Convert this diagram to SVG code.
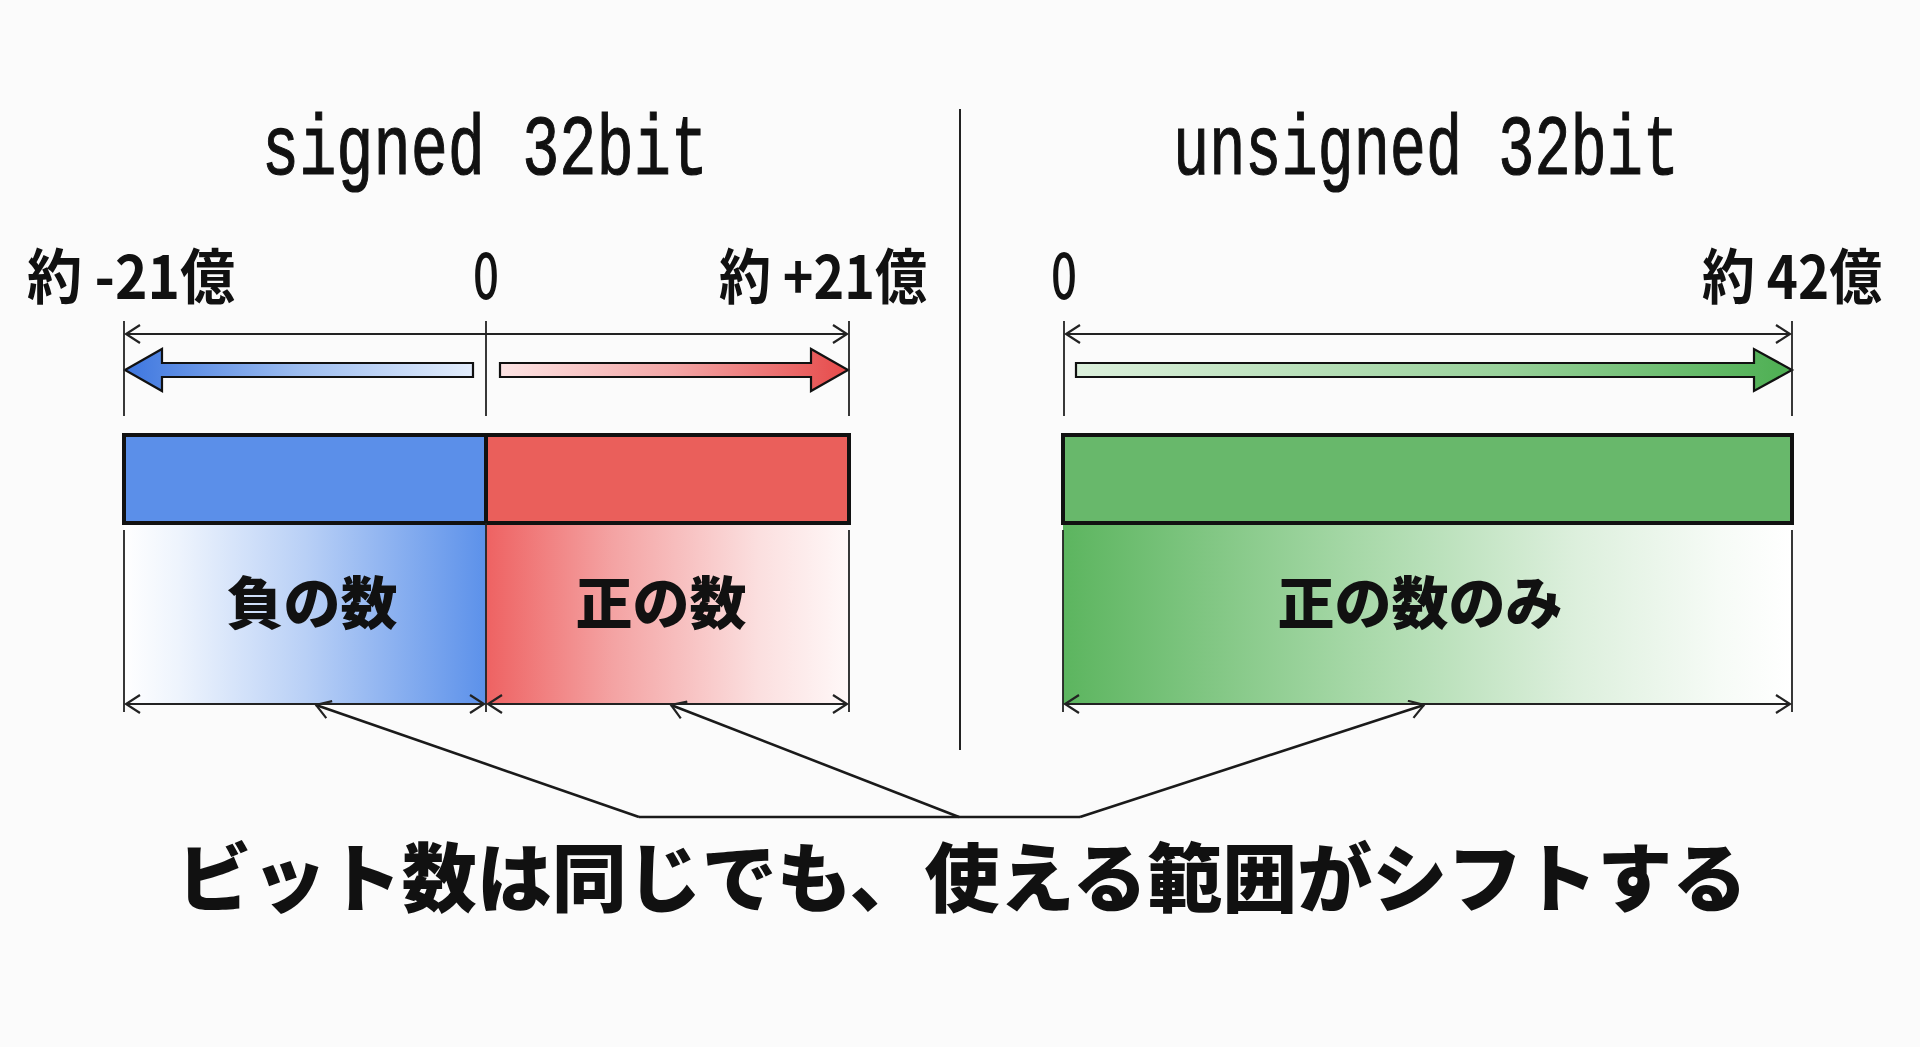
<svg xmlns="http://www.w3.org/2000/svg" width="1920" height="1047" viewBox="0 0 1920 1047">
<style>
.title{font-family:"Liberation Mono","DejaVu Sans Mono",monospace;font-size:85px;fill:#111;stroke:#111;stroke-width:1.2}
.lbl{font-family:"Noto Sans CJK JP","Noto Sans",sans-serif;font-size:60px;font-weight:700;fill:#111}
.zero{font-family:"Noto Sans CJK JP","Noto Sans",sans-serif;font-size:64px;font-weight:500;fill:#111}
.big{font-family:"Noto Sans CJK JP",sans-serif;font-weight:900;fill:#111}
.tick{stroke:#222;stroke-width:1.8;fill:none}
.dim{stroke:#222;stroke-width:2.2;fill:none;marker-start:url(#chev);marker-end:url(#chev)}
.call{stroke:#1a1a1a;stroke-width:2.6;fill:none}
.bar{stroke:#111;stroke-width:4}
.blk{stroke:#111;stroke-width:2.2}
</style>
<defs>
<marker id="chev" viewBox="-16 -10 18 20" markerWidth="18" markerHeight="20" refX="0" refY="0" orient="auto-start-reverse" markerUnits="userSpaceOnUse">
<path d="M-14,-9 L0,0 L-14,9" fill="none" stroke="#222" stroke-width="2.2"/>
</marker>
<linearGradient id="gBlueArr" x1="0" x2="1" y1="0" y2="0"><stop offset="0" stop-color="#3d76df"/><stop offset="0.5" stop-color="#9dbdf0"/><stop offset="1" stop-color="#e3edfc"/></linearGradient>
<linearGradient id="gRedArr" x1="0" x2="1" y1="0" y2="0"><stop offset="0" stop-color="#fde4e4"/><stop offset="0.5" stop-color="#f3a6a6"/><stop offset="1" stop-color="#e64a4a"/></linearGradient>
<linearGradient id="gGreenArr" x1="0" x2="1" y1="0" y2="0"><stop offset="0" stop-color="#dcf0dc"/><stop offset="0.6" stop-color="#98d19a"/><stop offset="1" stop-color="#4daf52"/></linearGradient>
<linearGradient id="gBlueReg" x1="0" x2="1" y1="0" y2="0"><stop offset="0" stop-color="#ffffff"/><stop offset="0.15" stop-color="#eef4fd"/><stop offset="0.5" stop-color="#b9d0f6"/><stop offset="1" stop-color="#5c91ea"/></linearGradient>
<linearGradient id="gRedReg" x1="0" x2="1" y1="0" y2="0"><stop offset="0" stop-color="#ee6262"/><stop offset="0.35" stop-color="#f4a3a3"/><stop offset="0.75" stop-color="#fbdfdf"/><stop offset="1" stop-color="#fff8f8"/></linearGradient>
<linearGradient id="gGreenReg" x1="0" x2="1" y1="0" y2="0"><stop offset="0" stop-color="#5cb55f"/><stop offset="0.4" stop-color="#a6d8a7"/><stop offset="0.7" stop-color="#dcefdc"/><stop offset="0.9" stop-color="#f6fbf6"/><stop offset="1" stop-color="#ffffff"/></linearGradient>
</defs>
<rect width="1920" height="1047" fill="#fbfbfb"/>

<g id="divider"><line x1="960" y1="109" x2="960" y2="750" stroke="#222" stroke-width="2"/></g>

<g id="signed-title"><text class="title" x="485" y="174" text-anchor="middle" textLength="446" lengthAdjust="spacingAndGlyphs">signed 32bit</text></g>
<g id="unsigned-title"><text class="title" x="1426" y="174" text-anchor="middle" textLength="506" lengthAdjust="spacingAndGlyphs">unsigned 32bit</text></g>

<g id="label-min-signed"><text class="lbl" x="27" y="299" textLength="208" lengthAdjust="spacingAndGlyphs">約 -21億</text></g>
<g id="label-zero-signed"><text class="zero" x="486" y="299" text-anchor="middle" textLength="26" lengthAdjust="spacingAndGlyphs">0</text></g>
<g id="label-max-signed"><text class="lbl" x="719" y="299" textLength="208" lengthAdjust="spacingAndGlyphs">約 +21億</text></g>
<g id="label-zero-unsigned"><text class="zero" x="1064" y="299" text-anchor="middle" textLength="26" lengthAdjust="spacingAndGlyphs">0</text></g>
<g id="label-max-unsigned"><text class="lbl" x="1702" y="299" textLength="180" lengthAdjust="spacingAndGlyphs">約 42億</text></g>

<g id="neg-region"><rect x="124" y="523" width="362" height="181" fill="url(#gBlueReg)"/><text class="big" x="312" y="624" font-size="57" text-anchor="middle">負の数</text></g>
<g id="pos-region"><rect x="486" y="523" width="363" height="181" fill="url(#gRedReg)"/><text class="big" x="661" y="624" font-size="57" text-anchor="middle">正の数</text></g>
<g id="uns-region"><rect x="1063" y="523" width="729" height="181" fill="url(#gGreenReg)"/><text class="big" x="1420" y="624" font-size="57" text-anchor="middle">正の数のみ</text></g>

<g id="neg-bar"><rect class="bar" x="124" y="435" width="362" height="88" fill="#5b8fe9"/></g>
<g id="pos-bar"><rect class="bar" x="486" y="435" width="363" height="88" fill="#ea5f5b"/></g>
<g id="uns-bar"><rect class="bar" x="1063" y="435" width="729" height="88" fill="#68b86b"/></g>

<g id="neg-arrow"><polygon class="blk" points="125,370 162,349 162,363 473,363 473,377 162,377 162,391" fill="url(#gBlueArr)"/></g>
<g id="pos-arrow"><polygon class="blk" points="500,363 811,363 811,349 848,370 811,391 811,377 500,377" fill="url(#gRedArr)"/></g>
<g id="uns-arrow"><polygon class="blk" points="1076,363 1754,363 1754,349 1792,370 1754,391 1754,377 1076,377" fill="url(#gGreenArr)"/></g>

<g id="connectors">
<line class="tick" x1="124" y1="321" x2="124" y2="416"/>
<line class="tick" x1="486" y1="321" x2="486" y2="416"/>
<line class="tick" x1="849" y1="321" x2="849" y2="416"/>
<line class="tick" x1="1064" y1="321" x2="1064" y2="416"/>
<line class="tick" x1="1792" y1="321" x2="1792" y2="416"/>
<line class="tick" x1="124" y1="530" x2="124" y2="712"/>
<line class="tick" x1="486" y1="523" x2="486" y2="712"/>
<line class="tick" x1="849" y1="530" x2="849" y2="712"/>
<line class="tick" x1="1063" y1="530" x2="1063" y2="712"/>
<line class="tick" x1="1792" y1="530" x2="1792" y2="712"/>
<line class="dim" x1="126" y1="334" x2="847" y2="334"/>
<line class="dim" x1="1066" y1="334" x2="1790" y2="334"/>
<line class="dim" x1="126" y1="704" x2="484" y2="704"/>
<line class="dim" x1="488" y1="704" x2="847" y2="704"/>
<line class="dim" x1="1065" y1="704" x2="1790" y2="704"/>
<polyline class="call" points="639,817 1080,817"/>
<line class="call" x1="639" y1="817" x2="316" y2="705" marker-end="url(#chev)"/>
<line class="call" x1="959" y1="817" x2="671" y2="705" marker-end="url(#chev)"/>
<line class="call" x1="1080" y1="817" x2="1424" y2="705" marker-end="url(#chev)"/>
</g>

<g id="summary"><text class="big" x="962" y="906" font-size="75" text-anchor="middle">ビット数は同じでも、使える範囲がシフトする</text></g>
</svg>
